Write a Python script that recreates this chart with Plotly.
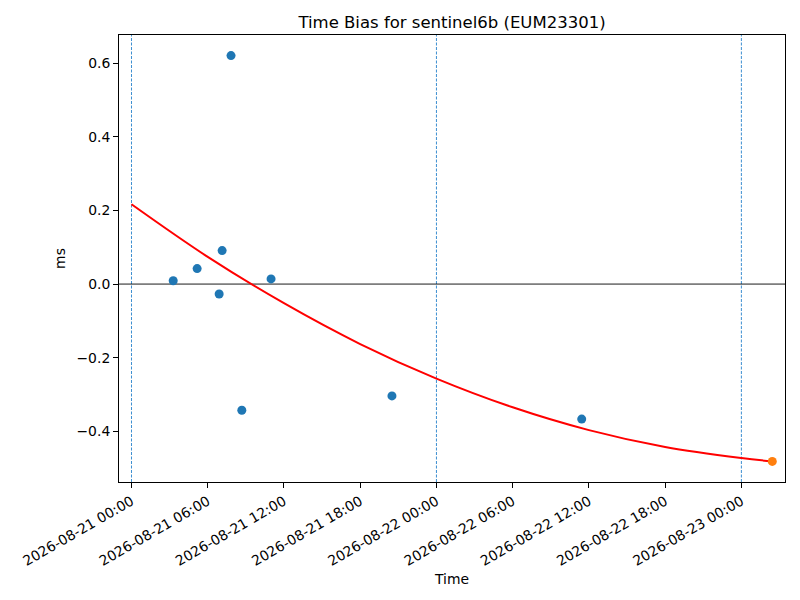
import plotly.graph_objects as go

# Observed time bias samples (ms)
obs_times = [
    "2026-08-21 03:17", "2026-08-21 05:10", "2026-08-21 06:54", "2026-08-21 07:08",
    "2026-08-21 07:50", "2026-08-21 08:41", "2026-08-21 10:59", "2026-08-21 20:30",
    "2026-08-22 11:26",
]
obs_values = [0.009, 0.042, -0.027, 0.091, 0.621, -0.343, 0.014, -0.304, -0.367]

# Prediction point
pred_times = ["2026-08-23 02:26"]
pred_values = [-0.482]

# Fitted curve
fit_times = [
    "2026-08-21 00:00", "2026-08-21 06:00", "2026-08-21 12:00", "2026-08-21 18:00",
    "2026-08-22 00:00", "2026-08-22 06:00", "2026-08-22 12:00", "2026-08-22 18:00",
    "2026-08-23 00:00", "2026-08-23 02:26",
]
fit_values = [0.217, 0.074, -0.052, -0.163, -0.257, -0.335, -0.397, -0.443, -0.473, -0.482]

# Day boundaries (dashed markers)
day_marks = ["2026-08-21 00:00", "2026-08-22 00:00", "2026-08-23 00:00"]

y_ticks = [-0.4, -0.2, 0.0, 0.2, 0.4, 0.6]

FONT = "DejaVu Sans"

fig = go.Figure()
fig.add_trace(go.Scatter(
    x=fit_times, y=fit_values, mode="lines",
    line=dict(color="red", width=2, shape="spline", smoothing=1.0),
    showlegend=False, hoverinfo="skip",
))
fig.add_trace(go.Scatter(
    x=obs_times, y=obs_values, mode="markers",
    marker=dict(color="#1f77b4", size=9, line=dict(width=0)),
    showlegend=False,
))
fig.add_trace(go.Scatter(
    x=pred_times, y=pred_values, mode="markers",
    marker=dict(color="#ff7f0e", size=9, line=dict(width=0)),
    showlegend=False,
))

for d in day_marks:
    fig.add_vline(x=d, line=dict(color="#3d8fd1", width=1, dash="3px,1.5px"), layer="below")
fig.add_hline(y=0, line=dict(color="black", width=0.9), layer="below")

fig.update_layout(
    width=800, height=600,
    margin=dict(l=111, r=23, t=27, b=126),
    plot_bgcolor="white", paper_bgcolor="white",
    font=dict(family=FONT, size=14, color="black"),
    title=dict(
        text="Time Bias for sentinel6b (EUM23301)",
        x=0.5, xanchor="center", xref="paper",
        y=1, yref="paper", yanchor="bottom", pad=dict(b=7),
        font=dict(family=FONT, size=16.5, color="black"),
    ),
    xaxis=dict(
        type="date",
        range=["2026-08-20 23:01", "2026-08-23 03:26"],
        tick0="2026-08-21 00:00", dtick=6 * 3600 * 1000,
        tickformat="%Y-%m-%d %H:%M", tickangle=-30,
        showgrid=False, zeroline=False,
        showline=True, linecolor="black", linewidth=1, mirror=True,
        ticks="outside", ticklen=5, tickcolor="black", tickwidth=1,
        tickfont=dict(family=FONT, size=13.9),
        title=dict(text="Time", font=dict(family=FONT, size=13.9), standoff=6),
        automargin=False,
    ),
    yaxis=dict(
        range=[-0.538, 0.677],
        tickvals=y_ticks, tickformat=".1f",
        showgrid=False, zeroline=False,
        showline=True, linecolor="black", linewidth=1, mirror=True,
        ticks="outside", ticklen=5, tickcolor="black", tickwidth=1,
        tickfont=dict(family=FONT, size=13.9),
        title=dict(text="ms", font=dict(family=FONT, size=13.9), standoff=7),
        automargin=False,
    ),
)

fig.write_html("out.html")
